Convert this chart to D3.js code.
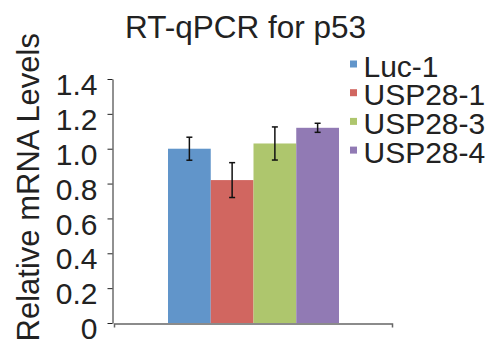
<!DOCTYPE html>
<html>
<head>
<meta charset="utf-8">
<script src="https://cdn.jsdelivr.net/npm/d3@7"></script>
<style>
  html, body { margin: 0; padding: 0; background: #fff; }
  svg { display: block; font-family: "Liberation Sans", Arial, sans-serif; }
</style>
</head>
<body>
<svg id="chart" width="487" height="349"></svg>
<script>
// Relative p53 mRNA levels by knockdown construct
const categories = ["Luc-1", "USP28-1", "USP28-3", "USP28-4"];
const values = [1.00, 0.82, 1.03, 1.12];
const errors = [0.066, 0.10, 0.095, 0.026];
const colors = ["#6195CA", "#D16660", "#AEC66D", "#917AB4"];
const yTicks = [0, 0.2, 0.4, 0.6, 0.8, 1.0, 1.2, 1.4];

const svg = d3.select("#chart");

const y = d3.scaleLinear().domain([0, 1.4]).range([323, 79]);
const x = d3.scaleBand().domain(categories).range([168, 339]).padding(0);

// Title
svg.append("text")
  .attr("x", 245.5).attr("y", 38)
  .attr("text-anchor", "middle")
  .attr("font-size", 31.5)
  .attr("fill", "#222")
  .text("RT-qPCR for p53");

// Y axis title
svg.append("text")
  .attr("transform", "translate(38.5,33) rotate(-90)")
  .attr("text-anchor", "end")
  .attr("font-size", 31)
  .attr("fill", "#222")
  .text("Relative mRNA Levels");

// Bars
svg.append("g").selectAll("rect")
  .data(categories)
  .join("rect")
  .attr("x", d => x(d))
  .attr("width", x.bandwidth())
  .attr("y", (d, i) => y(values[i]))
  .attr("height", (d, i) => y(0) - y(values[i]))
  .attr("fill", (d, i) => colors[i]);

// Error bars
const eb = svg.append("g").attr("stroke", "#111").attr("stroke-width", 1.5).attr("fill", "none");
categories.forEach((c, i) => {
  const cx = x(c) + x.bandwidth() / 2;
  const top = y(values[i] + errors[i]);
  const bot = y(values[i] - errors[i]);
  eb.append("line").attr("x1", cx).attr("x2", cx).attr("y1", top).attr("y2", bot);
  eb.append("line").attr("x1", cx - 3).attr("x2", cx + 3).attr("y1", top).attr("y2", top);
  eb.append("line").attr("x1", cx - 3).attr("x2", cx + 3).attr("y1", bot).attr("y2", bot);
});

// X axis (no category labels)
const xAxisScale = d3.scaleLinear().domain([0, 1]).range([114, 392]);
const xAxis = svg.append("g")
  .attr("transform", "translate(0,323.5)")
  .call(d3.axisBottom(xAxisScale).tickValues([]).tickSizeOuter(4));
xAxis.select(".domain").attr("stroke", "#666").attr("stroke-width", 1.5);

// Y axis
const yAxis = svg.append("g")
  .attr("transform", "translate(112.5,0)")
  .call(d3.axisLeft(y).tickValues(yTicks).tickSize(5).tickSizeOuter(0).tickPadding(10)
    .tickFormat(d => d === 0 ? "0" : d3.format(".1f")(d)));
yAxis.select(".domain").attr("stroke", "#222");
yAxis.selectAll(".tick line").attr("stroke", "#222");
yAxis.selectAll(".tick text")
  .attr("font-size", 30)
  .attr("dy", "0.52em")
  .attr("font-family", "'Liberation Sans', Arial, sans-serif")
  .attr("fill", "#222");

// Legend
const legend = svg.append("g").attr("transform", "translate(350,0)");
categories.forEach((c, i) => {
  const cy = 64 + i * 28.7;
  legend.append("rect")
    .attr("x", 0).attr("y", cy - 3.5)
    .attr("width", 7).attr("height", 7)
    .attr("fill", colors[i]);
  legend.append("text")
    .attr("x", 13.5).attr("y", cy + 12.5)
    .attr("font-size", 30)
    .attr("fill", "#222")
    .text(c);
});
</script>
</body>
</html>
